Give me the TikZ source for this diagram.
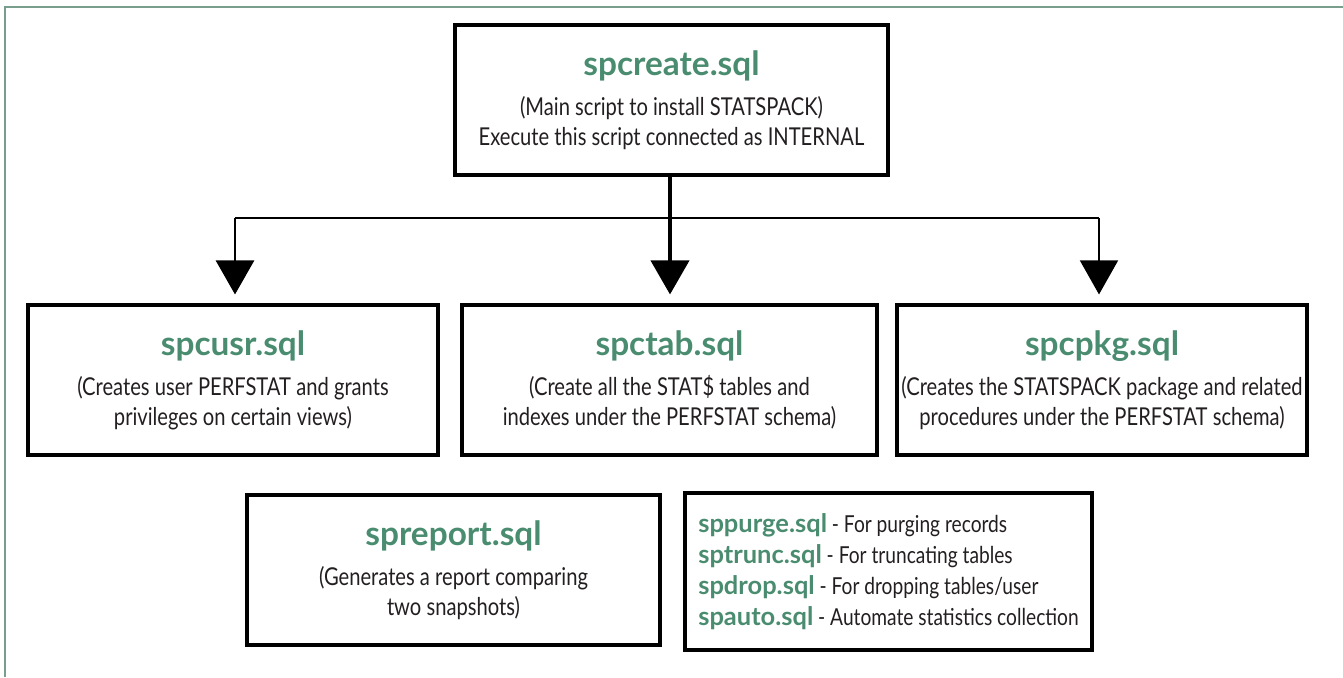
\documentclass[tikz,border=0pt]{standalone}
\usepackage{fontspec}
\setmainfont{Lato}[FakeStretch=0.82]
\newfontfamily\sqlfont{Lato}
\usetikzlibrary{arrows.meta, positioning}
\definecolor{sqlgreen}{HTML}{4A8C6F}
\definecolor{framegreen}{HTML}{7A9E8E}
\definecolor{inkgray}{HTML}{231F20}
\newcommand{\sqlname}[1]{{\sqlfont\fontsize{19}{22}\selectfont\bfseries\color{sqlgreen}#1}}
\newcommand{\sqlitem}[1]{{\sqlfont\fontsize{14.5}{16}\selectfont\bfseries\color{sqlgreen}#1}}

\begin{document}
\begin{tikzpicture}[x=0.02cm, y=0.02cm,
    box/.style={draw, line width=1.8pt, align=center, inner sep=0pt,
      text=inkgray, font=\fontsize{14}{17}\selectfont,
      minimum height=3cm},
    flow/.style={-{Triangle[width=0.76cm, length=0.68cm]}, shorten >=0.18cm}]
    \useasboundingbox (0, 0) rectangle (1343, -677);

    % outer frame, only top and left show
    \draw[framegreen, line width=1.2pt] (5, -677) -- (5, -7) -- (1343, -7);

    \node[box, minimum width=8.66cm] (create) at (671.5, -100)
      {\sqlname{spcreate.sql}\\[6pt]
       (Main script to install STATSPACK)\\
       Execute this script connected as INTERNAL};
    \node[box, minimum width=8.2cm] (usr) at (233, -380)
      {\sqlname{spcusr.sql}\\[6pt]
       (Creates user PERFSTAT and grants\\
       privileges on certain views)};
    \node[box, minimum width=8.3cm] (tab) at (669.5, -380)
      {\sqlname{spctab.sql}\\[6pt]
       (Create all the STAT\$ tables and\\
       indexes under the PERFSTAT schema)};
    \node[box, minimum width=8.2cm] (pkg) at (1102, -380)
      {\sqlname{spcpkg.sql}\\[6pt]
       (Creates the STATSPACK package and related\\
       procedures under the PERFSTAT schema)};
    \node[box, minimum width=8.26cm] (report) at (453.5, -570)
      {\sqlname{spreport.sql}\\[6pt]
       (Generates a report comparing\\
       two snapshots)};
    \node[box, minimum width=8.14cm, minimum height=3.14cm, align=left,
      font=\fontsize{13.3}{17.6}\selectfont] (extras) at (888.5, -571.5)
      {\sqlitem{sppurge.sql} - For purging records\\
       \sqlitem{sptrunc.sql} - For truncating tables\\
       \sqlitem{spdrop.sql} - For dropping tables/user\\
       \sqlitem{spauto.sql} - Automate statistics collection};

    % branch point under spcreate.sql
    \coordinate (split) at (670, -218);
    \coordinate (leftturn) at (235, -218);
    \coordinate (rightturn) at (1099, -218);
    \draw[line width=2.3pt] (create.south -| split) -- (split);
    \draw[line width=1.1pt] (leftturn) -- (rightturn);
    \draw[flow, line width=1.7pt] (leftturn) -- (usr.north -| leftturn);
    \draw[flow, line width=2.3pt] (split) -- (tab.north -| split);
    \draw[flow, line width=0.9pt] (rightturn) -- (pkg.north -| rightturn);
\end{tikzpicture}
\end{document}
